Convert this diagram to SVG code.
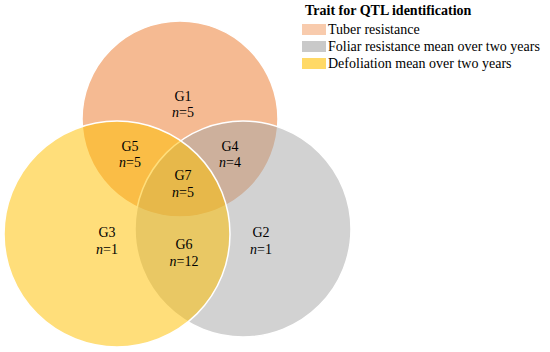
<svg xmlns="http://www.w3.org/2000/svg" width="550" height="352" viewBox="0 0 550 352">
<style>
.c{stroke:#fff;stroke-width:1.5}
.t{font-family:"Liberation Serif","Times New Roman",serif;font-size:14px;fill:#000;text-anchor:middle}
.i{font-style:italic}
.lg{font-family:"Liberation Serif","Times New Roman",serif;font-size:14px;fill:#000}
.hd{font-weight:bold}
</style>
<rect width="550" height="352" fill="#fff"/>
<g id="circles">
<circle id="c-tuber" class="c" cx="180" cy="119" r="98" fill="#ED7D31" fill-opacity="0.53"/>
<circle id="c-foliar" class="c" cx="243" cy="229" r="108" fill="#A5A5A5" fill-opacity="0.5"/>
<circle id="c-defol" class="c" cx="117" cy="234" r="113" fill="#FFC000" fill-opacity="0.52"/>
</g>
<g id="labels">
<g id="G1"><text class="t" x="183" y="101">G1</text><text class="t" x="183" y="117"><tspan class="i">n</tspan>=5</text></g>
<g id="G5"><text class="t" x="130" y="151">G5</text><text class="t" x="130" y="167"><tspan class="i">n</tspan>=5</text></g>
<g id="G4"><text class="t" x="230" y="151">G4</text><text class="t" x="230" y="167"><tspan class="i">n</tspan>=4</text></g>
<g id="G7"><text class="t" x="183" y="180">G7</text><text class="t" x="183" y="197"><tspan class="i">n</tspan>=5</text></g>
<g id="G3"><text class="t" x="107" y="237">G3</text><text class="t" x="107" y="254"><tspan class="i">n</tspan>=1</text></g>
<g id="G6"><text class="t" x="184" y="249">G6</text><text class="t" x="184" y="266"><tspan class="i">n</tspan>=12</text></g>
<g id="G2"><text class="t" x="261" y="237">G2</text><text class="t" x="261" y="254"><tspan class="i">n</tspan>=1</text></g>
</g>
<g id="legend">
<text class="lg hd" x="305" y="15">Trait for QTL identification</text>
<rect x="302" y="24" width="24" height="11" fill="#F8CBAD"/>
<text class="lg" x="328" y="34">Tuber resistance</text>
<rect x="302" y="41" width="24" height="11" fill="#C9C9C9"/>
<text class="lg" x="328" y="51">Foliar resistance mean over two years</text>
<rect x="302" y="58" width="24" height="11" fill="#FFD966"/>
<text class="lg" x="328" y="68">Defoliation mean over two years</text>
</g>
</svg>
